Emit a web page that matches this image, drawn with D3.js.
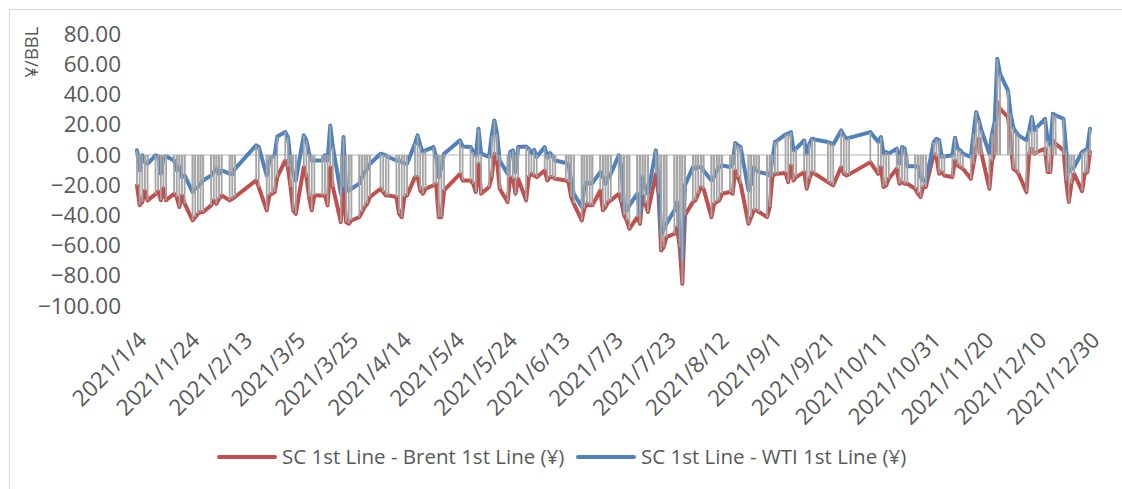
<!DOCTYPE html>
<html>
<head>
<meta charset="utf-8">
<script src="https://cdn.jsdelivr.net/npm/d3@7"></script>
<style>
  body { margin: 0; background: #fff; }
  text { font-family: "Open Sans", sans-serif; fill: #595959; }
</style>
</head>
<body>
<div id="container"></div>
<script>
const width = 1122, height = 489;

// trading days of 2021 (month/day)
const dates = [
  "1/4","1/5","1/6","1/7","1/8","1/11","1/12","1/13","1/14","1/15","1/18","1/19","1/20","1/21","1/22",
  "1/25","1/26","1/27","1/28","1/29","2/1","2/2","2/3","2/4","2/5","2/8","2/9","2/10","2/18","2/19",
  "2/22","2/23","2/24","2/25","2/26","3/1","3/2","3/3","3/4","3/5","3/8","3/9","3/10","3/11","3/12",
  "3/15","3/16","3/17","3/18","3/19","3/22","3/23","3/24","3/25","3/26","3/29","3/30","3/31","4/1","4/2",
  "4/6","4/7","4/8","4/9","4/12","4/13","4/14","4/15","4/16","4/19","4/20","4/21","4/22","4/23",
  "4/26","4/27","4/28","4/29","4/30","5/6","5/7","5/10","5/11","5/12","5/13","5/14","5/17","5/18","5/19",
  "5/20","5/21","5/24","5/25","5/26","5/27","5/28","5/31","6/1","6/2","6/3","6/4","6/7","6/8","6/9",
  "6/10","6/11","6/15","6/16","6/17","6/18","6/21","6/22","6/23","6/24","6/25","6/28","6/29","6/30",
  "7/1","7/2","7/5","7/6","7/7","7/8","7/9","7/12","7/13","7/14","7/15","7/16","7/19","7/20","7/21",
  "7/22","7/23","7/26","7/27","7/28","7/29","7/30","8/2","8/3","8/4","8/5","8/6","8/9","8/10","8/11",
  "8/12","8/13","8/16","8/17","8/18","8/19","8/20","8/23","8/24","8/25","8/26","8/27","8/30","8/31",
  "9/1","9/2","9/3","9/6","9/7","9/8","9/9","9/10","9/13","9/14","9/15","9/16","9/17","9/22","9/23",
  "9/24","9/27","9/28","9/29","9/30","10/8","10/11","10/12","10/13","10/14","10/15","10/18","10/19",
  "10/20","10/21","10/22","10/25","10/26","10/27","10/28","10/29","11/1","11/2","11/3","11/4","11/5",
  "11/8","11/9","11/10","11/11","11/12","11/15","11/16","11/17","11/18","11/19","11/22","11/23","11/24",
  "11/25","11/26","11/29","11/30","12/1","12/2","12/3","12/6","12/7","12/8","12/9","12/10","12/13",
  "12/14","12/15","12/16","12/17","12/20","12/21","12/22","12/23","12/24","12/27","12/28","12/29","12/30"
];

// SC 1st Line - Brent 1st Line (red)
const scBrent = [
  -20.2,-33.4,-31.2,-23.5,-30.1,-26,-24,-30,-22,-30,-25.7,-27.9,-34.5,-26.8,-32.3,
  -43.4,-41.2,-39,-37.8,-37.8,-33.4,-30.1,-32.3,-29,-26.8,-30.1,-29,-27.9,-16.9,-21.3,
  -36.7,-26.8,-25.7,-24.6,-14.7,-3.7,-8,-21.3,-36.7,-39,-8,-14.7,-27.9,-36.7,-26.8,
  -26.8,-26.8,-33.4,-8,-21.3,-44.5,-21.3,-44.5,-45.6,-43.4,-41.2,-37.8,-34.5,-32.3,-27.9,
  -22.4,-24.6,-26.8,-26.8,-27.9,-39,-41.2,-27.9,-26.8,-14.7,-14.7,-23.5,-25.7,-22.4,
  -20.2,-19.1,-41.2,-41.2,-23.5,-12.5,-16.9,-16.9,-19.1,-24.6,-5.9,-25.7,-21.3,-14.7,0.8,
  -3.7,-22.4,-31.2,-14.7,-15.8,-25.7,-15.8,-30.1,-14.7,-12.5,-13.6,-14.7,-10.3,-16.9,-14.7,
  -14.7,-15.8,-16.9,-18,-27.9,-32.3,-43.4,-35.6,-32.3,-33.4,-33.4,-23.5,-36.7,-34.5,
  -31.2,-30.1,-25.7,-31.2,-40,-43.4,-48.9,-41.2,-45.6,-26.8,-32.3,-37.8,-12.5,-25.7,-63.2,
  -61,-54.4,-52.2,-47.8,-61,-85.3,-40,-31.2,-30,-25.7,-21.3,-22.4,-41.2,-32.3,-31.2,
  -30.1,-25.7,-24.6,-25.7,-10.3,-14.7,-19.1,-45.6,-41.2,-36.7,-36.7,-37.8,-41.2,-34.5,
  -14.7,-12.5,-12.5,-12,-18,-7,-16.9,-14.7,-11.4,-22.4,-15.8,-11.4,-12.5,-18,-19.1,
  -20.2,-8,-12.5,-13.6,-12.9,-4.8,-12.5,-8,-21.3,-20.2,-15.8,-9.2,-19.1,
  -18,-19.1,-19.1,-22.4,-25.7,-27.9,-21.3,-21.3,0.8,-1.4,-12.5,-11.4,-13.6,
  -14.7,-3.7,-7,-8,-9.2,-15.8,-5.9,5,10.7,0.8,-22.4,-4,2,
  34.9,30.5,25,9.6,-9.2,-10.3,-12.5,-24.6,0.8,4.1,0.8,1.9,4.1,
  -11.4,-11.4,9.6,7.4,3,-16.9,-31.2,-19.1,-12.5,-24,-12.5,-11.4,2
];

// SC 1st Line - WTI 1st Line (blue)
const scWti = [
  3,-10.3,-0.3,-4.8,-5.9,-0.3,-1,-12.5,-1.4,-1,-3.7,-10,-8,-14.7,-13.6,
  -24.6,-22.4,-21.3,-19,-16.9,-13.6,-11.4,-9.2,-12.5,-10.3,-12.5,-12.9,-9.2,6.3,5.2,
  -13.6,-3.7,-1.4,-0.3,12.2,15.1,11.8,-3.7,-12.5,-16.9,12.9,9.6,0.8,-3.7,-3.7,
  -3.7,-0.3,-3.7,19.5,5.2,-25.7,11.8,-23.5,-23.5,-22.4,-19,-14.7,-11.4,-9.2,-5.9,
  0.8,0.3,-0.3,-1.4,-3.7,-3.7,-4.8,-5.4,-5.9,7.4,12.9,6.3,1.9,3,
  5.2,-1.4,-14.7,-8,0.8,9.6,5.6,5.2,1.9,-0.3,17.3,0.8,-1.4,12.9,22.8,
  14,-3.7,-12.5,1.9,3,-11.4,5.2,5.6,4.1,0.8,3.4,-1.4,5.2,-1.9,1.2,
  -1,-3.7,-5.4,-6.3,-16.9,-25.7,-34.5,-21.3,-18,-19.1,-18.7,-11.4,-14.7,-19.1,
  -14.7,-12.5,-0.3,-8,-35.6,-36.7,-33.4,-25.7,-39,-14.7,-21.3,-25.7,3,-14.7,-52.2,
  -48.9,-45.6,-36.7,-31.2,-50,-69.8,-20,-8,-9.2,-8,-8,-10.3,-16.9,-14.7,-10.3,
  -8,-7,-8,-5.9,7.8,6.3,5.2,-23.5,-19.1,-8,-10.3,-11.4,-12.5,-13.6,
  -3.7,8.5,9.6,13.6,14,15.1,3,4.1,9.6,0.8,7.4,10.7,10.2,8.5,7.8,
  6.9,16.2,12.9,10.7,11.3,15.1,8.5,11.8,0.8,1.9,0.8,4.1,-5.9,
  5.2,4.1,-7.6,-7.6,-7.6,-14.7,-16.9,-17.3,8.5,10.7,9.6,-1.4,-1,
  -0.3,11.3,4.1,3,0.8,-1.4,14,28.3,22.8,16.2,0.8,14,22,
  63.6,53.7,42.7,27.2,18.4,15.1,12.9,9.6,16.2,25,16.2,18.4,23.9,
  9.6,6.3,27.2,26.1,23.9,3,-11.4,-9.2,-8,1.9,3,4.1,17.3
];

const yTicks = [80, 60, 40, 20, 0, -20, -40, -60, -80, -100];
const seriesNames = ["SC 1st Line - Brent 1st Line (¥)", "SC 1st Line - WTI 1st Line (¥)"];
const seriesColors = ["#C0504D", "#4F81BD"];
const yTitle = "¥/BBL";

const parseDay = s => new Date(2021, +s.split("/")[0] - 1, +s.split("/")[1]);
const days = dates.map(parseDay);
const first = days[0], last = days[days.length - 1];
const xTicks = d3.range(0, 361, 20).map(i => d3.timeDay.offset(first, i));

const x = d3.scaleTime().domain([first, last]).range([137, 1090]);
const y = d3.scaleLinear().domain([-100, 80]).range([306, 34]);

const svg = d3.select("#container").append("svg")
    .attr("width", width)
    .attr("height", height);

// chart area border
svg.append("rect")
    .attr("x", 9.5).attr("y", 9.5)
    .attr("width", width + 20).attr("height", height + 20)
    .attr("fill", "none")
    .attr("stroke", "#D9D9D9");

// y axis labels
const yAxis = svg.append("g")
    .attr("transform", "translate(121,0)")
    .call(d3.axisLeft(y).tickValues(yTicks).tickSize(0).tickPadding(0)
        .tickFormat(d3.format(".2f")));
yAxis.select(".domain").remove();
yAxis.selectAll("text")
    .style("font-family", '"Open Sans", sans-serif')
    .style("font-size", "22.5px")
    .attr("fill", "#595959");

svg.append("text")
    .attr("transform", "translate(38,52) rotate(-90)")
    .attr("text-anchor", "middle")
    .style("font-size", "18.5px")
    .text(yTitle);

// zero line (category axis)
svg.append("line")
    .attr("x1", x(first)).attr("x2", x(last))
    .attr("y1", y(0)).attr("y2", y(0))
    .attr("stroke", "#D9D9D9")
    .attr("stroke-width", 2);

// x axis labels
const xAxis = svg.append("g")
    .attr("transform", "translate(0,336)")
    .call(d3.axisBottom(x).tickValues(xTicks).tickSize(0)
        .tickFormat(d3.timeFormat("%Y/%-m/%-d")));
xAxis.select(".domain").remove();
xAxis.selectAll("text")
    .attr("x", 0).attr("y", 0).attr("dy", "0.35em")
    .attr("text-anchor", "end")
    .attr("transform", "translate(5,0) rotate(-45)")
    .style("font-family", '"Open Sans", sans-serif')
    .style("font-size", "22.5px")
    .attr("fill", "#595959");

// series lines
const seriesData = [scBrent, scWti];
const line = d3.line()
    .x((d, i) => x(days[i]))
    .y(d => y(d));

svg.selectAll("path.series")
    .data(seriesData)
    .join("path")
    .attr("class", "series")
    .attr("d", line)
    .attr("fill", "none")
    .attr("stroke", (d, i) => seriesColors[i])
    .attr("stroke-width", 4)
    .attr("stroke-linejoin", "round")
    .attr("stroke-linecap", "round");

// drop lines to the axis
const drops = [];
seriesData.forEach(s => s.forEach((v, i) => drops.push({ day: days[i], v: v })));
svg.append("g").selectAll("line")
    .data(drops)
    .join("line")
    .attr("x1", d => x(d.day)).attr("x2", d => x(d.day))
    .attr("y1", y(0)).attr("y2", d => y(d.v))
    .attr("stroke", "#A5A5A5")
    .attr("stroke-width", 1.8);

// legend
const legendX = [219, 578];
const legend = svg.selectAll("g.legend")
    .data(seriesNames)
    .join("g")
    .attr("class", "legend")
    .attr("transform", (d, i) => `translate(${legendX[i]},457)`);
legend.append("line")
    .attr("x1", 0).attr("x2", 56)
    .attr("stroke", (d, i) => seriesColors[i])
    .attr("stroke-width", 4)
    .attr("stroke-linecap", "round");
legend.append("text")
    .attr("x", 63).attr("dy", "0.35em")
    .style("font-size", "20.5px")
    .text(d => d);
</script>
</body>
</html>
